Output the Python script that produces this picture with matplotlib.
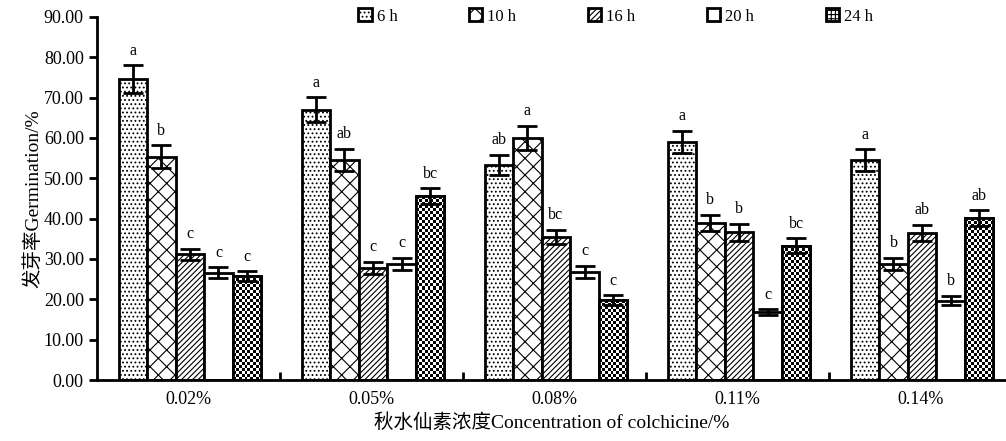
import numpy as np
import matplotlib
matplotlib.use("Agg")
import matplotlib.pyplot as plt

plt.rcParams["font.family"] = ["Liberation Serif", "Noto Sans CJK SC"]
plt.rcParams["hatch.linewidth"] = 0.8

concentrations = ["0.02%", "0.05%", "0.08%", "0.11%", "0.14%"]
hours = ["6 h", "10 h", "16 h", "20 h", "24 h"]

# germination rate (%) per soaking time, one value per concentration
rate_6h = [74.6, 67.0, 53.3, 59.0, 54.5]
rate_10h = [55.4, 54.5, 60.0, 39.0, 28.8]
rate_16h = [31.2, 27.8, 35.5, 36.6, 36.5]
rate_20h = [26.6, 28.8, 26.8, 16.8, 19.7]
rate_24h = [25.8, 45.6, 19.8, 33.3, 40.1]

err_6h = [3.5, 3.1, 2.5, 2.8, 2.7]
err_10h = [2.8, 2.8, 3.0, 2.0, 1.5]
err_16h = [1.4, 1.5, 1.8, 2.2, 2.0]
err_20h = [1.4, 1.5, 1.5, 0.7, 1.2]
err_24h = [1.2, 2.0, 1.2, 1.8, 2.0]

sig_6h = ["a", "a", "ab", "a", "a"]
sig_10h = ["b", "ab", "a", "b", "b"]
sig_16h = ["c", "c", "bc", "b", "ab"]
sig_20h = ["c", "c", "c", "c", "b"]
sig_24h = ["c", "bc", "c", "bc", "ab"]

series = [rate_6h, rate_10h, rate_16h, rate_20h, rate_24h]
errors = [err_6h, err_10h, err_16h, err_20h, err_24h]
letters = [sig_6h, sig_10h, sig_16h, sig_20h, sig_24h]
hatches = ["....", "xx", "//////", "", "++++"]

fig = plt.figure(figsize=(10.06, 4.41), dpi=100)
ax = fig.add_axes([0.0964, 0.1383, 0.9036, 0.8232])
ax.set_ylim(0, 90)
ax.set_xlim(-0.5, 4.467)

x = np.arange(len(concentrations))
width = 0.156
offsets = (np.arange(5) - 2) * width + 0.008

containers = []
for i in range(5):
    pos = x + offsets[i]
    bars = ax.bar(pos, series[i], width, color="white", edgecolor="black",
                  linewidth=2, hatch=hatches[i], label=hours[i], zorder=2)
    containers.append(bars)
    ax.errorbar(pos, series[i], yerr=errors[i], fmt="none", ecolor="black",
                elinewidth=2, capsize=7, capthick=2, zorder=4)
    for p, v, e, s in zip(pos, series[i], errors[i], letters[i]):
        ax.text(p, v + e + 1.6, s, ha="center", va="bottom", fontsize=11.5)

# 24 h bars get a fine checkerboard fill instead of the plain grid hatch
cell = 3.0
for bar in containers[4]:
    x0, w, h = bar.get_x(), bar.get_width(), bar.get_height()
    p0 = ax.transData.transform((x0, 0))
    p1 = ax.transData.transform((x0 + w, h))
    nx = max(1, int(round((p1[0] - p0[0]) / cell)))
    ny = max(1, int(round((p1[1] - p0[1]) / cell)))
    checker = np.add.outer(np.arange(ny), np.arange(nx)) % 2
    im = ax.imshow(checker, cmap="gray", extent=[x0, x0 + w, 0, h],
                   aspect="auto", interpolation="nearest", zorder=2.5)
    im.set_clip_path(bar)
    ax.bar(x0 + w / 2, h, w, fill=False, edgecolor="black", linewidth=2, zorder=3)

ax.set_ylim(0, 90)
ax.set_xlim(-0.5, 4.467)
ax.set_yticks(np.arange(0, 91, 10))
ax.set_yticklabels([f"{v:.2f}" for v in np.arange(0, 91, 10)], fontsize=13)
ax.set_xticks(x)
ax.set_xticklabels(concentrations, fontsize=13)
ax.set_xticks(x[:-1] + 0.5, minor=True)
ax.tick_params(axis="x", which="major", length=0, pad=8)
ax.tick_params(axis="x", which="minor", direction="in", length=6, width=2)
ax.tick_params(axis="y", direction="out", length=6, width=2)

for side in ["top", "right"]:
    ax.spines[side].set_visible(False)
for side in ["left", "bottom"]:
    ax.spines[side].set_linewidth(2)

ax.set_ylabel("发芽率Germination/%", fontsize=14, labelpad=1)
ax.set_xlabel("秋水仙素浓度Concentration of colchicine/%", fontsize=14, labelpad=4)

ax.legend(loc="upper left", bbox_to_anchor=(0.28, 1.042), ncol=5, frameon=False,
          fontsize=12, handlelength=0.8, handleheight=0.8, handletextpad=0.3,
          columnspacing=4.3, borderaxespad=0)

fig.savefig("out.png", dpi=100)
